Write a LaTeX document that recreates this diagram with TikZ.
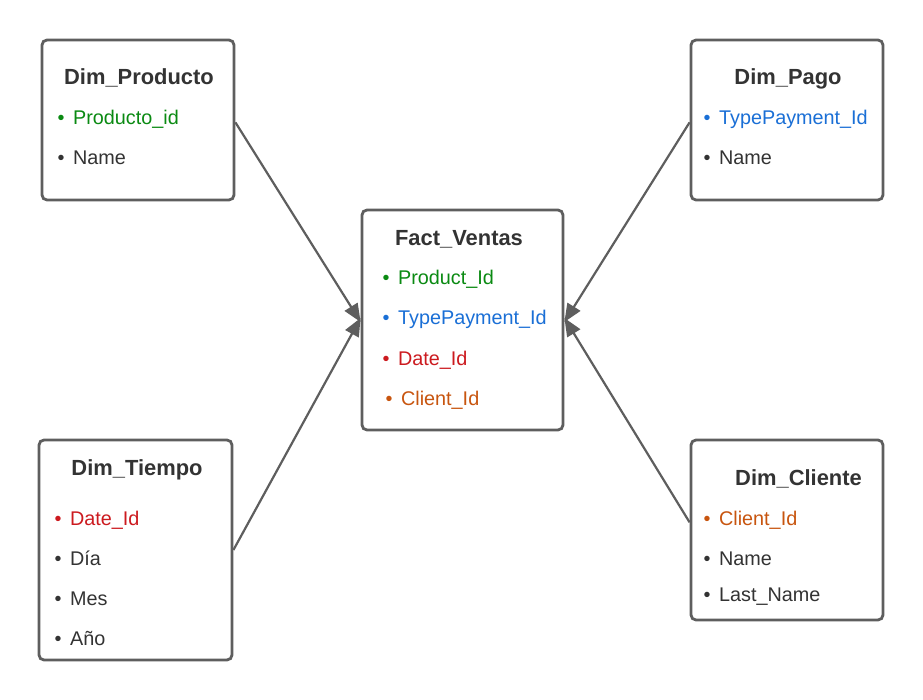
\documentclass[tikz,border=0pt]{standalone}
\usepackage{fontspec}
\setmainfont{Liberation Sans}
\usetikzlibrary{arrows.meta}

\definecolor{boxgray}{HTML}{5E5E5E}
\definecolor{txtdark}{HTML}{333333}
\definecolor{keygreen}{HTML}{0A8A12}
\definecolor{keyblue}{HTML}{1A6FD6}
\definecolor{keyred}{HTML}{CC1A1F}
\definecolor{keyorange}{HTML}{C8550F}

\begin{document}
\begin{tikzpicture}[x=1pt,y=-1pt,
    table/.style={draw=boxgray,line width=2.8pt,rounded corners=5pt,fill=white,inner sep=0pt},
    title/.style={anchor=base,inner sep=0pt,text=txtdark,font=\fontsize{21.9}{24}\selectfont\bfseries},
    field/.style={anchor=base west,inner sep=0pt,text=txtdark,font=\fontsize{19.8}{22}\selectfont},
    link/.style={draw=boxgray,line width=2.2pt,-{Triangle[length=18pt,width=15pt]}}]

	\useasboundingbox (0,0) rectangle (923,700);

	% tables
	\node[table,minimum width=192pt,minimum height=160pt] (producto) at (138,120) {};
	\node[table,minimum width=192pt,minimum height=160pt] (pago) at (787,120) {};
	\node[table,minimum width=201pt,minimum height=220pt] (ventas) at (462.5,320) {};
	\node[table,minimum width=193pt,minimum height=220pt] (tiempo) at (135.5,550) {};
	\node[table,minimum width=192pt,minimum height=180pt] (cliente) at (787,530) {};

	% titles
	\node[title] (producto_t) at (139,85) {Dim\_Producto};
	\node[title] (pago_t) at (788,85) {Dim\_Pago};
	\node[title] (ventas_t) at (459,246) {Fact\_Ventas};
	\node[title] (tiempo_t) at (137,475) {Dim\_Tiempo};
	\node[title] (cliente_t) at (798.5,485) {Dim\_Cliente};

	% fields
	\node[field,text=keygreen] (producto_id) at (57.5,125) {•\hspace{8.5pt}Producto\_id};
	\node[field] (producto_name) at (57.5,165) {•\hspace{8.5pt}Name};

	\node[field,text=keyblue] (pago_id) at (703.5,125) {•\hspace{8.5pt}TypePayment\_Id};
	\node[field] (pago_name) at (703.5,165) {•\hspace{8.5pt}Name};

	\node[field,text=keygreen] (ventas_prod) at (382.5,285) {•\hspace{8.5pt}Product\_Id};
	\node[field,text=keyblue] (ventas_pago) at (382.5,325) {•\hspace{8.5pt}TypePayment\_Id};
	\node[field,text=keyred] (ventas_date) at (382.5,365) {•\hspace{8.5pt}Date\_Id};
	\node[field,text=keyorange] (ventas_client) at (385.5,405) {•\hspace{8.5pt}Client\_Id};

	\node[field,text=keyred] (tiempo_id) at (54.5,525) {•\hspace{8.5pt}Date\_Id};
	\node[field] (tiempo_dia) at (54.5,565) {•\hspace{8.5pt}Día};
	\node[field] (tiempo_mes) at (54.5,605) {•\hspace{8.5pt}Mes};
	\node[field] (tiempo_anio) at (54.5,645) {•\hspace{8.5pt}Año};

	\node[field,text=keyorange] (cliente_id) at (703.5,525) {•\hspace{8.5pt}Client\_Id};
	\node[field] (cliente_name) at (703.5,565) {•\hspace{8.5pt}Name};
	\node[field] (cliente_last) at (703.5,601) {•\hspace{8.5pt}Last\_Name};

	% links
	\draw[link] (producto.east |- producto_id.mid) -- ([yshift=-2pt]ventas.west);
	\draw[link] (tiempo.east) -- ([yshift=2pt]ventas.west);
	\draw[link] (pago.west |- pago_id.mid) -- ([yshift=-2pt]ventas.east);
	\draw[link] (cliente.west |- cliente_id.mid) -- ([yshift=2pt]ventas.east);
\end{tikzpicture}
\end{document}
